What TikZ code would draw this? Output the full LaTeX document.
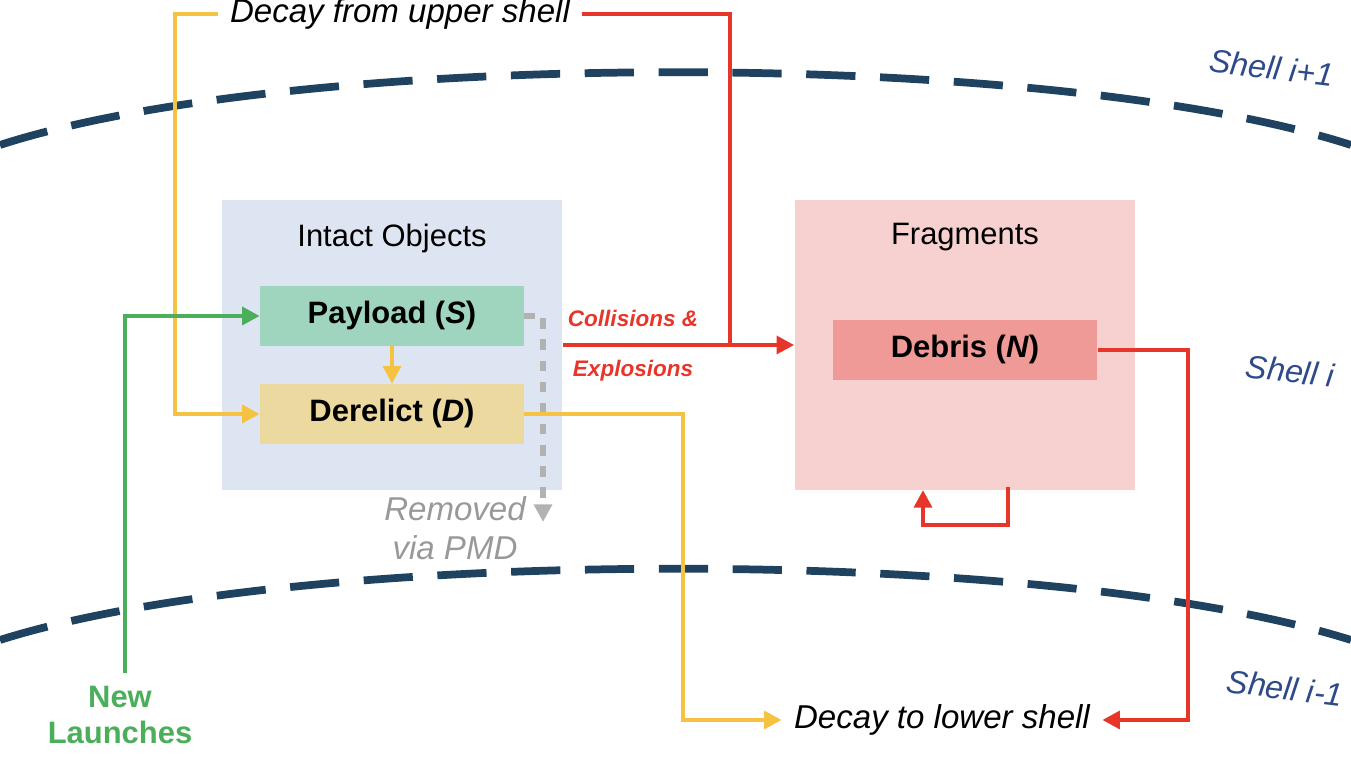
\documentclass[tikz,border=0pt]{standalone}
\usepackage{fontspec}
\setmainfont{Liberation Sans}
\usetikzlibrary{arrows.meta,positioning,calc}
\definecolor{shellblue}{HTML}{1F4260}
\definecolor{labelblue}{HTML}{2E4A8A}
\definecolor{flowred}{HTML}{E8352A}
\definecolor{flowyellow}{HTML}{F5C242}
\definecolor{flowgreen}{HTML}{4BAE5A}
\definecolor{intactfill}{HTML}{DDE4F2}
\definecolor{fragfill}{HTML}{F7D0D0}
\definecolor{payloadfill}{HTML}{9FD5BE}
\definecolor{derelictfill}{HTML}{EBD9A0}
\definecolor{debrisfill}{HTML}{EF9A96}
\begin{document}
\begin{tikzpicture}[
        x=0.01cm, y=-0.01cm,
        group/.style={rectangle, minimum width=3.4cm, minimum height=2.9cm, inner sep=0pt},
        item/.style={rectangle, minimum width=2.63cm, minimum height=0.59cm, inner sep=0pt, font=\fontsize{8.8}{10}\selectfont\bfseries},
        shell/.style={font=\fontsize{9.2}{10}\selectfont\itshape, text=labelblue, rotate=-7},
        note/.style={font=\fontsize{9.4}{11}\selectfont\itshape},
        arrow/.style={-{Triangle[length=5pt,width=5pt]}, line width=1.4pt}
    ]
        \useasboundingbox (0,0) rectangle (1351,762);

        % shell boundaries
        \draw[shellblue, line width=2.2pt, dash pattern=on 14pt off 7pt] (0,145) .. controls (300,48) and (1050,48) .. (1351,145);
        \draw[shellblue, line width=2.2pt, dash pattern=on 14pt off 7pt] (0,640) .. controls (300,545) and (1050,545) .. (1351,640);
        \node[shell] (shellup) at (1272,68) {Shell \textit{i}+1};
        \node[shell] (shellmid) at (1290,371) {Shell \textit{i}};
        \node[shell] (shelllow) at (1285,688) {Shell \textit{i}-1};

        % groups
        \node[group, fill=intactfill] (intact) at (392,345) {};
        \node[font=\fontsize{8.8}{10}\selectfont, below=0.12cm of intact.north] {Intact Objects};
        \node[group, fill=fragfill] (frag) at (965,345) {};
        \node[font=\fontsize{8.8}{10}\selectfont, below=0.12cm of frag.north] {Fragments};

        \node[item, fill=payloadfill] (payload) at (392,316) {Payload (\textit{S})};
        \node[item, fill=derelictfill] (derelict) at (392,414) {Derelict (\textit{D})};
        \node[item, fill=debrisfill, minimum width=2.64cm, minimum height=0.6cm] (debris) at (965,350) {Debris (\textit{N})};

        % free texts
        \node[note] (upper) at (400,14) {Decay from upper shell};
        \node[note] (lower) at (942,720) {Decay to lower shell};
        \node[font=\fontsize{8.8}{10.5}\selectfont\bfseries, text=flowgreen, align=center] (launch) at (120,715) {New\\Launches};
        \node[note, text=gray!80, align=center] (pmd) at (455,528) {Removed\\via PMD};
        \node[font=\fontsize{6.4}{7}\selectfont\bfseries\itshape, text=flowred] (coll) at (633,318) {Collisions \&};
        \node[font=\fontsize{6.4}{7}\selectfont\bfseries\itshape, text=flowred] (expl) at (633,371) {Explosions};

        % flows
        \draw[arrow, flowyellow] (upper.west) -| (175,414) -- (derelict.west);
        \draw[arrow, flowyellow] (payload.south) -- (derelict.north);
        \draw[arrow, flowgreen] (launch.north -| 125,0) |- (payload.west);
        \draw[arrow, gray!60, dashed, line width=1.6pt] (payload.east) -| (543,522);
        \draw[arrow, flowred] (intact.east) -- (frag.west);
        \draw[line width=1.4pt, flowred] (upper.east) -| (730,345);
        \draw[arrow, flowyellow] (derelict.east) -| (683,720) -- (lower.west);
        \draw[arrow, flowred] (debris.east) -| (1188,720) -- (lower.east);
        \draw[arrow, flowred] (1008,487) -- (1008,525) -| (923,490);
    \end{tikzpicture}
\end{document}
